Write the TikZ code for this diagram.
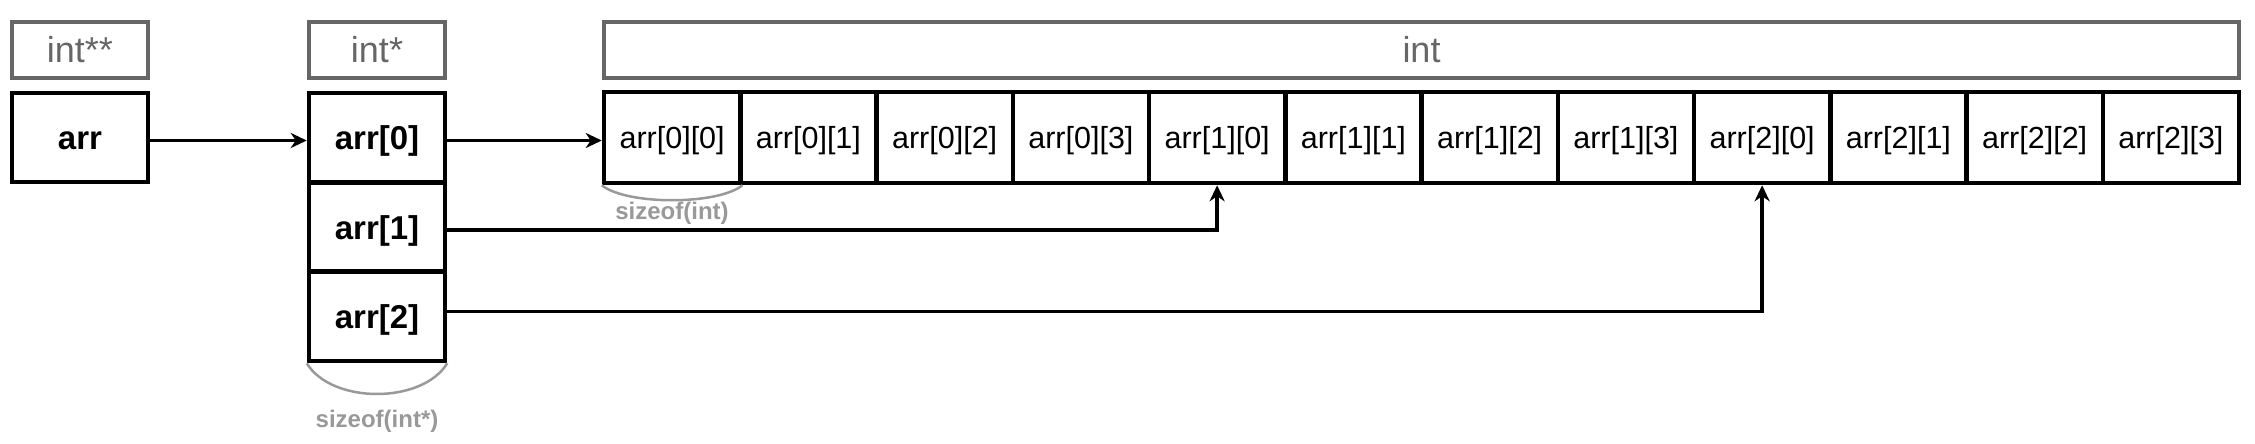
\documentclass[tikz,border=0pt]{standalone}
\usepackage{fontspec}
\setmainfont{Liberation Sans}
\usetikzlibrary{arrows.meta}
\definecolor{typegray}{HTML}{666666}
\definecolor{sizegray}{HTML}{999999}
\begin{document}
\begin{tikzpicture}[x=0.5pt,y=-0.5pt,
 typebox/.style={draw=typegray, line width=2pt, text=typegray, font=\fontsize{18}{18}\selectfont, minimum height=28pt, inner sep=0pt},
 ptrbox/.style={draw=black, line width=2.25pt, font=\bfseries\fontsize{16.5}{16.5}\selectfont, text height=12pt, text depth=0pt, minimum width=68pt, minimum height=44.5pt, inner sep=0pt},
 cellbox/.style={draw=black, line width=2.25pt, font=\fontsize{15.25}{15.25}\selectfont, text height=11pt, text depth=0pt, minimum width=68.125pt, minimum height=45.5pt, inner sep=0pt},
 link/.style={line width=1.75pt, -{Stealth[length=8pt,width=7.5pt,inset=2.5pt]}},
 sizearc/.style={draw=sizegray, line width=1.25pt},
 sizelabel/.style={text=sizegray, font=\bfseries\fontsize{12}{12}\selectfont, inner sep=0pt}]
\useasboundingbox (0,0) rectangle (2255,444);
% type headers
\node[typebox, minimum width=68pt] (t1) at (80,50) {int**};
\node[typebox, minimum width=68pt] (t2) at (377,50) {int*};
\node[typebox, minimum width=817.5pt] (t3) at (1421.5,50) {int};
% pointer boxes
\node[ptrbox] (arr) at (80,137.5) {arr};
\node[ptrbox] (a0) at (377,137.5) {arr[0]};
\node[ptrbox] (a1) at (377,227) {arr[1]};
\node[ptrbox] (a2) at (377,316.5) {arr[2]};
% int cells
\foreach \i in {0,...,11}{
  \pgfmathtruncatemacro\r{int(\i/4)}
  \pgfmathtruncatemacro\c{mod(\i,4)}
  \node[cellbox] (c\i) at ({604+136.25*(\i+0.5)},137.5) {arr[\r][\c]};
}
% size markers
\draw[sizearc] (c0.south west) .. controls +(25,20) and +(-25,20) .. (c0.south east);
\draw[sizearc] (a2.south west) .. controls +(25,41) and +(-25,41) .. (a2.south east);
\node[sizelabel] (s1) at (672,213) {sizeof(int)};
\node[sizelabel] (s2) at (377,421) {sizeof(int*)};
% connectors
\draw[link] ([yshift=-1.5pt]arr.east) -- ([yshift=-1.5pt]a0.west);
\draw[link] ([yshift=-1.5pt]a0.east) -- ([yshift=-1.5pt]c0.west);
\draw[link] ([yshift=-1.5pt]a1.east) -| (c4.south);
\draw[link] ([yshift=2.5pt]a2.east) -| (c8.south);
\end{tikzpicture}
\end{document}
